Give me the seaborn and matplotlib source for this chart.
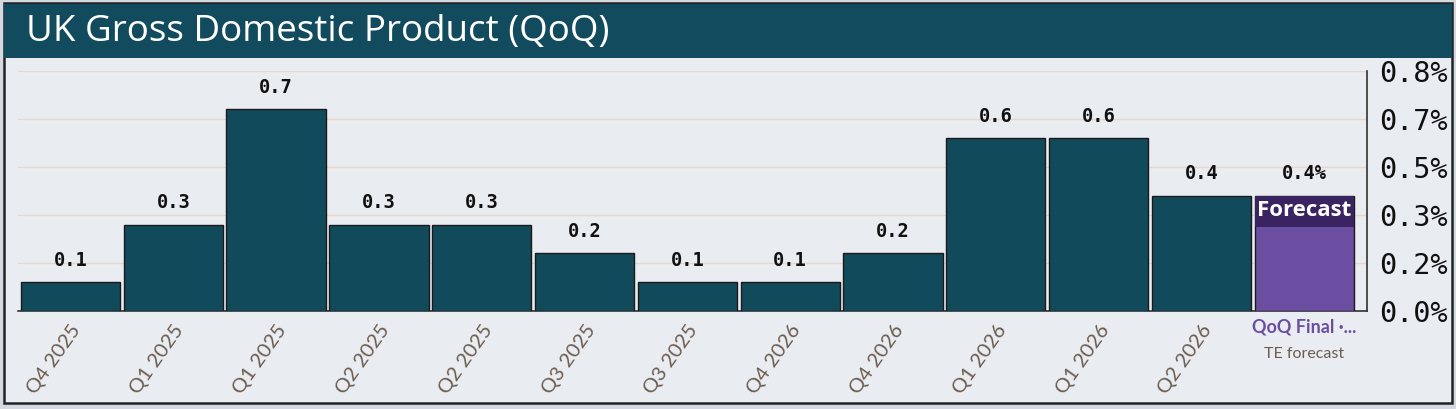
import matplotlib
matplotlib.use("Agg")
import matplotlib.pyplot as plt
import matplotlib.transforms as mtransforms
from matplotlib.patches import Rectangle
import pandas as pd
import seaborn as sns

# data
quarters = ["Q4 2025", "Q1 2025", "Q1 2025", "Q2 2025", "Q2 2025", "Q3 2025",
            "Q3 2025", "Q4 2026", "Q4 2026", "Q1 2026", "Q1 2026", "Q2 2026"]
gdp_qoq = [0.1, 0.3, 0.7, 0.3, 0.3, 0.2, 0.1, 0.1, 0.2, 0.6, 0.6, 0.4]
forecast_label = "QoQ Final ·..."
forecast_sub = "TE forecast"
forecast_value = 0.4
y_ticks = [0.0, 1 / 6, 2 / 6, 3 / 6, 4 / 6, 5 / 6]

TEAL = "#114A5A"
PURPLE = "#6B4EA2"
DARK_PURPLE = "#392361"
BG = "#E9ECF1"
GRID = "#E6D6CB"
TICK_COL = "#6B5C4E"

df = pd.DataFrame({
    "slot": list(range(len(quarters) + 1)),
    "value": gdp_qoq + [forecast_value],
    "kind": ["actual"] * len(quarters) + ["forecast"],
})

sns.set_style("white")
plt.rcParams["font.family"] = ["Lato", "DejaVu Sans"]

fig = plt.figure(figsize=(14.56, 4.09), dpi=100)
fig.patch.set_facecolor("#D3D9E1")

# inner panel + dark frame
fig.patches.append(Rectangle((4 / 1456, 6 / 409), 1448 / 1456, 400 / 409,
                             transform=fig.transFigure, facecolor=BG,
                             edgecolor="#222222", linewidth=1.8, zorder=-3))
# title bar
fig.patches.append(Rectangle((4 / 1456, 1 - 58 / 409), 1448 / 1456, 54 / 409,
                             transform=fig.transFigure, facecolor="#114B5D",
                             edgecolor="none", zorder=-2))
fig.text(26 / 1456, 1 - 32 / 409, "UK Gross Domestic Product (QoQ)",
         color="white", fontsize=26.5, va="center", ha="left",
         family="Open Sans")

ax = fig.add_axes([18 / 1456, 1 - 311 / 409, (1367 - 18) / 1456, 240 / 409])
ax.set_facecolor(BG)

sns.barplot(data=df, x="slot", y="value", hue="kind",
            palette={"actual": TEAL, "forecast": PURPLE}, saturation=1,
            dodge=False, width=0.965, edgecolor="#1a1a1a", linewidth=1.0,
            legend=False, ax=ax, zorder=3)

ax.set_xlim(-0.51, 12.61)
ax.set_ylim(0, 5 / 6)
ax.set_yticks(y_ticks)
ax.set_yticklabels([f"{t:.1f}%" for t in y_ticks], family="DejaVu Sans Mono",
                   fontsize=20.5, color="#111111")
ax.yaxis.tick_right()
ax.tick_params(axis="y", length=0, pad=9)
ax.grid(axis="y", color=GRID, linewidth=1.0, zorder=0)
ax.set_axisbelow(True)

for side in ["top", "left"]:
    ax.spines[side].set_visible(False)
ax.spines["right"].set_color("#333333")
ax.spines["bottom"].set_color("#333333")
ax.spines["right"].set_linewidth(1.2)
ax.spines["bottom"].set_linewidth(1.2)

ax.set_xlabel("")
ax.set_ylabel("")
ax.set_xticks(range(len(quarters) + 1))
ax.set_xticklabels(quarters + [""], rotation=55, ha="right",
                   rotation_mode="anchor", fontsize=14.5, color=TICK_COL)
ax.tick_params(axis="x", length=0, pad=8)

# value labels
for i, v in enumerate(gdp_qoq):
    ax.annotate(f"{v:.1f}", (i, v), xytext=(0, 9), textcoords="offset points",
                ha="center", va="bottom", family="DejaVu Sans Mono",
                fontsize=13.5, fontweight="bold", color="#111111")
fi = len(quarters)
ax.annotate(f"{forecast_value:.1f}%", (fi, forecast_value), xytext=(0, 9),
            textcoords="offset points", ha="center", va="bottom",
            family="DejaVu Sans Mono", fontsize=13.5, fontweight="bold",
            color="#111111")

# forecast badge on the bar top
bw = 0.965
ax.add_patch(Rectangle((fi - bw / 2, forecast_value - 0.11), bw, 0.11,
                       facecolor=DARK_PURPLE, edgecolor="none", zorder=4))
ax.text(fi, forecast_value - 0.052, "Forecast", color="white",
        fontsize=16, fontweight="bold", ha="center", va="center", zorder=5,
        family="Open Sans")

trans = mtransforms.blended_transform_factory(ax.transData, ax.transAxes)
ax.text(fi, -0.068, forecast_label, transform=trans, ha="center", va="center",
        color=PURPLE, fontsize=13, fontweight="bold")
ax.text(fi, -0.18, forecast_sub, transform=trans, ha="center", va="center",
        color=TICK_COL, fontsize=11.5)

fig.savefig("out.png", dpi=100, facecolor=fig.get_facecolor())
